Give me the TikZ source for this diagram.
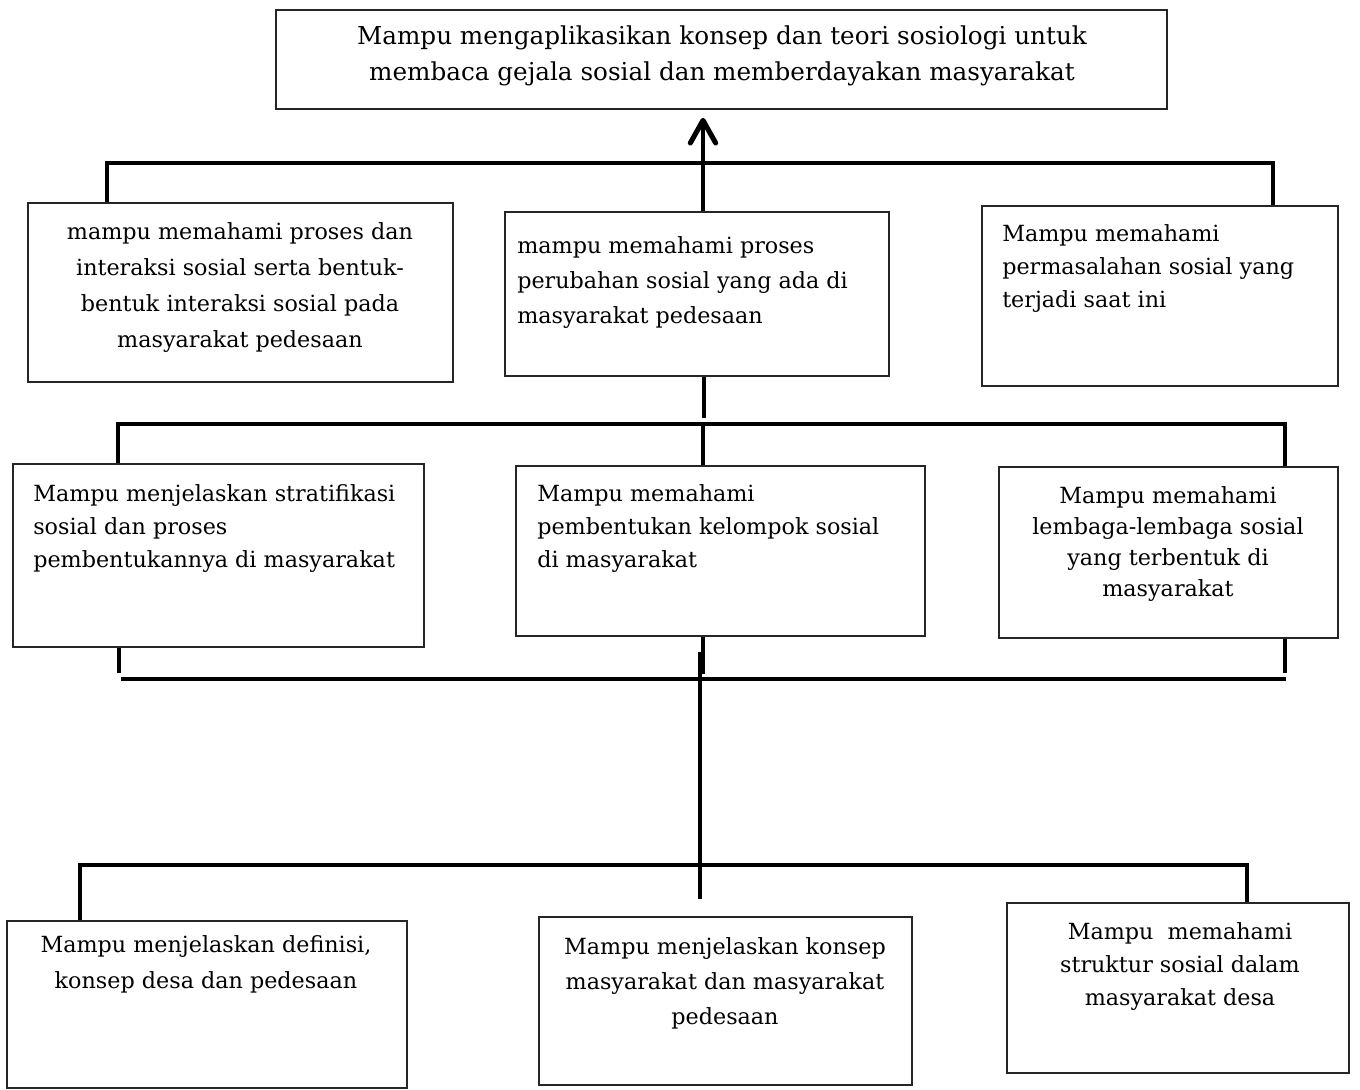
\documentclass[tikz,border=0pt]{standalone}
\usepackage{fontspec}
\setmainfont{DejaVu Serif}
\usetikzlibrary{fit,arrows.meta}
\begin{document}
\begin{tikzpicture}[x=0.75pt,y=-0.75pt,
  box/.style={draw=black!85, line width=1.2pt, inner sep=0pt},
  conn/.style={line width=3.2pt, black},
  txt/.style={inner sep=0pt, font=\fontsize{16.7}{#1}\selectfont},
]
\useasboundingbox (0,0) rectangle (1360,1089);

% boxes
\node[box, fit={(276,10) (1167,109)}] (top) {};
\node[box, fit={(28,203) (453,382)}] (A) {};
\node[box, fit={(505,212) (889,376)}] (B) {};
\node[box, fit={(982,206) (1338,386)}] (C) {};
\node[box, fit={(13,464) (424,647)}] (D) {};
\node[box, fit={(516,466) (925,636)}] (E) {};
\node[box, fit={(999,467) (1338,638)}] (F) {};
\node[box, fit={(7,921) (407,1088)}] (G) {};
\node[box, fit={(539,917) (912,1085)}] (H) {};
\node[box, fit={(1007,903) (1349,1073)}] (I) {};

% texts
\node[inner sep=0pt, font=\fontsize{18.5}{27}\selectfont, anchor=north, align=center] (ttop) at (722,25) {Mampu mengaplikasikan konsep dan teori sosiologi untuk\\membaca gejala sosial dan memberdayakan masyarakat};
\node[txt=27pt, anchor=north, align=center] (tA) at (240,222) {mampu memahami proses dan\\interaksi sosial serta bentuk-\\bentuk interaksi sosial pada\\masyarakat pedesaan};
\node[txt=26.25pt, anchor=north west, align=left] (tB) at (517,236) {mampu memahami proses\\perubahan sosial yang ada di\\masyarakat pedesaan};
\node[txt=25pt, anchor=north west, align=left] (tC) at (1002,224) {Mampu memahami\\permasalahan sosial yang\\terjadi saat ini};
\node[txt=25pt, anchor=north west, align=left] (tD) at (33,484) {Mampu menjelaskan stratifikasi\\sosial dan proses\\pembentukannya di masyarakat};
\node[txt=25pt, anchor=north west, align=left] (tE) at (537,484) {Mampu memahami\\pembentukan kelompok sosial\\di masyarakat};
\node[txt=23.25pt, anchor=north, align=center] (tF) at (1168,486) {Mampu memahami\\lembaga-lembaga sosial\\yang terbentuk di\\masyarakat};
\node[txt=27pt, anchor=north, align=center] (tG) at (206,935) {Mampu menjelaskan definisi,\\konsep desa dan pedesaan};
\node[txt=26.25pt, anchor=north, align=center] (tH) at (725,937) {Mampu menjelaskan konsep\\masyarakat dan masyarakat\\pedesaan};
\node[txt=25pt, anchor=north, align=center] (tI) at (1180,922) {Mampu\ \ memahami\\struktur sosial dalam\\masyarakat desa};

% junction coordinates
\coordinate (j1) at (703,163);
\coordinate (j2a) at (704,418);
\coordinate (j2) at (703,424);
\coordinate (j3l) at (121,679);
\coordinate (j3r) at (1286,679);
\coordinate (j3a) at (703,674);
\coordinate (j3b) at (700,652);
\coordinate (j4) at (700,899);
\coordinate (dl) at (119,673);
\coordinate (dr) at (1285,673);

% connectors
\draw[conn] (A.north -| 107,0) -- (107,163) -- (1273,163) -- (C.north -| 1273,0);
\draw[conn, -{Straight Barb[length=17pt,width=19pt,round,line width=3.8pt]}] (B.north -| 703,0) -- ([yshift=-6pt]top.south -| 703,0);
\draw[conn] (B.south -| 704,0) -- (j2a);
\draw[conn] (D.north -| 118,0) -- (118,424) -- (1285,424) -- (F.north -| 1285,0);
\draw[conn] (j2) -- (E.north -| 703,0);
\draw[conn] (D.south -| 119,0) -- (dl);
\draw[conn] (F.south -| 1285,0) -- (dr);
\draw[conn] (j3l) -- (j3r);
\draw[conn] (E.south -| 703,0) -- (j3a);
\draw[conn] (j3b) -- (j4);
\draw[conn] (G.north -| 80,0) -- (80,865) -- (1247,865) -- (I.north -| 1247,0);
\end{tikzpicture}
\end{document}
